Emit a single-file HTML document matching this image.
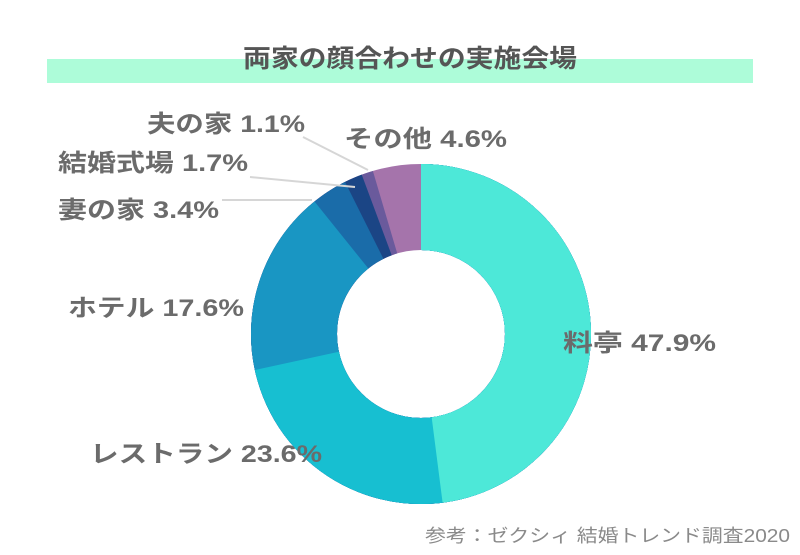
<!DOCTYPE html>
<html><head><meta charset="utf-8"><style>
html,body{margin:0;padding:0;background:#fff;}
svg text{font-family:"Liberation Sans","Noto Sans CJK JP",sans-serif;font-weight:bold;fill:#6b6b6b;}
</style></head><body>
<svg width="800" height="550" viewBox="0 0 800 550" xmlns="http://www.w3.org/2000/svg">
<rect x="47" y="59" width="706" height="24" fill="#adfcd9"/>
<text x="243" y="67" font-size="25" textLength="334" lengthAdjust="spacingAndGlyphs" style="fill:#555">両家の顔合わせの実施会場</text>
<g transform="rotate(-90 421 334)" fill="none" stroke-width="86">
<circle cx="421" cy="334" r="127" stroke="#a574ab"/>
<circle cx="421" cy="334" r="127" stroke="#6a5a9c" stroke-dasharray="761.2 1000"/>
<circle cx="421" cy="334" r="127" stroke="#1b4585" stroke-dasharray="752.4 1000"/>
<circle cx="421" cy="334" r="127" stroke="#1a6ca9" stroke-dasharray="738.8 1000"/>
<circle cx="421" cy="334" r="127" stroke="#1996c3" stroke-dasharray="711.7 1000"/>
<circle cx="421" cy="334" r="127" stroke="#17bfd1" stroke-dasharray="571.1 1000"/>
<circle cx="421" cy="334" r="127" stroke="#4de8d8" stroke-dasharray="382.6 1000"/>
</g>
<g stroke="#d6d6d6" stroke-width="2" fill="none">
<polyline points="303,137 368,170"/>
<polyline points="250,177 355,187"/>
<polyline points="222,200 312,200"/>
</g>
<g font-size="24">
<text x="344" y="147" textLength="163" lengthAdjust="spacingAndGlyphs">その他 4.6%</text>
<text x="147" y="132" textLength="158" lengthAdjust="spacingAndGlyphs">夫の家 1.1%</text>
<text x="58" y="171" textLength="190" lengthAdjust="spacingAndGlyphs">結婚式場 1.7%</text>
<text x="58" y="218" textLength="161" lengthAdjust="spacingAndGlyphs">妻の家 3.4%</text>
<text x="68" y="316" textLength="176" lengthAdjust="spacingAndGlyphs">ホテル 17.6%</text>
<text x="563" y="351" textLength="153" lengthAdjust="spacingAndGlyphs">料亭 47.9%</text>
<text x="90" y="462" textLength="232" lengthAdjust="spacingAndGlyphs">レストラン 23.6%</text>
</g>
<text x="425" y="542" font-size="18" textLength="365" lengthAdjust="spacingAndGlyphs" style="font-weight:normal;fill:#8a8a8a">参考：ゼクシィ 結婚トレンド調査2020</text>
</svg>
</body></html>
